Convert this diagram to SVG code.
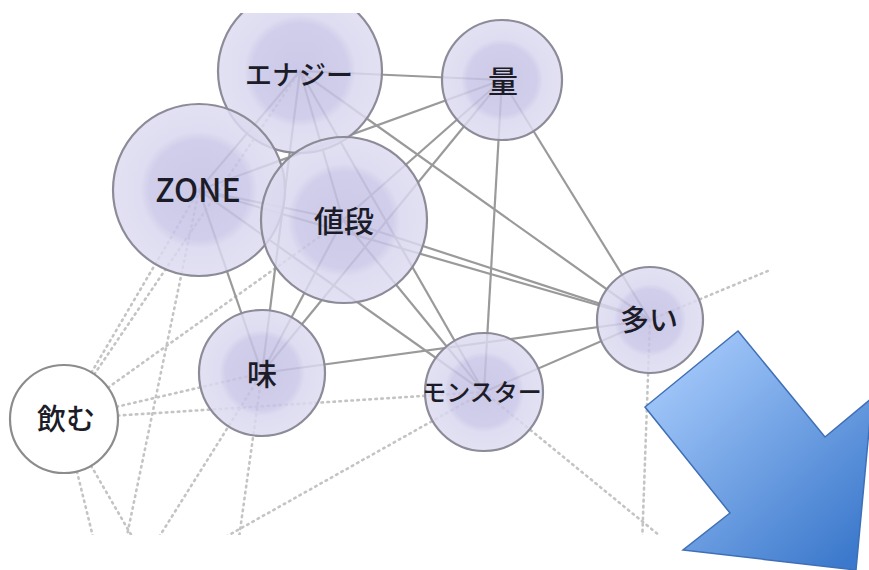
<svg xmlns="http://www.w3.org/2000/svg" width="869" height="570" viewBox="0 0 869 570">
<defs>
<radialGradient id="nodeFill" cx="0.5" cy="0.5" r="0.5">
<stop offset="0" stop-color="#c3bfe4"/>
<stop offset="0.58" stop-color="#c8c5e7"/>
<stop offset="0.68" stop-color="#d8d6ee"/>
<stop offset="1" stop-color="#dddbf0"/>
</radialGradient>
<linearGradient id="arrowFill" x1="0.15" y1="0.1" x2="0.9" y2="0.95">
<stop offset="0" stop-color="#a3c8fa"/>
<stop offset="1" stop-color="#3c79cc"/>
</linearGradient>
<clipPath id="frame"><rect x="0" y="13" width="770" height="522"/></clipPath>
<style>
.solid{stroke:#9a9a9a;stroke-width:2.2;fill:none}
.dot{stroke:#c4c4c4;stroke-width:2.6;stroke-dasharray:1.5 4.5;stroke-linecap:round;fill:none}
.node{fill:url(#nodeFill);fill-opacity:0.84;stroke:#8c8c98;stroke-width:2.2}
.plain{fill:#ffffff;stroke:#8c8c8c;stroke-width:2.2}
.lbl{font-family:"Noto Sans CJK JP","Noto Sans",sans-serif;font-weight:500;fill:#1c1c28;text-anchor:middle}
</style>
</defs>
<rect width="869" height="570" fill="#ffffff"/>
<g clip-path="url(#frame)">
<g id="connectors">
<line class="dot" x1="64" y1="419" x2="199" y2="190"/>
<line class="dot" x1="64" y1="419" x2="300" y2="71"/>
<line class="dot" x1="64" y1="419" x2="343" y2="220"/>
<line class="dot" x1="64" y1="419" x2="262" y2="373"/>
<line class="dot" x1="64" y1="419" x2="484" y2="392"/>
<line class="dot" x1="64" y1="419" x2="95" y2="545"/>
<line class="dot" x1="64" y1="419" x2="137" y2="545"/>
<line class="dot" x1="199" y1="190" x2="125" y2="545"/>
<line class="dot" x1="262" y1="373" x2="154" y2="545"/>
<line class="dot" x1="262" y1="373" x2="238" y2="545"/>
<line class="dot" x1="484" y1="392" x2="220" y2="540"/>
<line class="dot" x1="484" y1="392" x2="665" y2="540"/>
<line class="dot" x1="650" y1="320" x2="642" y2="545"/>
<line class="dot" x1="650" y1="320" x2="775" y2="268"/>
<line class="solid" x1="300" y1="71" x2="502" y2="80"/>
<line class="solid" x1="300" y1="71" x2="199" y2="190"/>
<line class="solid" x1="300" y1="71" x2="343" y2="220"/>
<line class="solid" x1="199" y1="190" x2="343" y2="220"/>
<line class="solid" x1="502" y1="80" x2="199" y2="190"/>
<line class="solid" x1="502" y1="80" x2="343" y2="220"/>
<line class="solid" x1="502" y1="80" x2="262" y2="373"/>
<line class="solid" x1="502" y1="80" x2="484" y2="392"/>
<line class="solid" x1="502" y1="80" x2="650" y2="320"/>
<line class="solid" x1="300" y1="71" x2="650" y2="320"/>
<line class="solid" x1="300" y1="71" x2="484" y2="392"/>
<line class="solid" x1="300" y1="71" x2="262" y2="373"/>
<line class="solid" x1="343" y1="220" x2="650" y2="320"/>
<line class="solid" x1="199" y1="190" x2="650" y2="320"/>
<line class="solid" x1="343" y1="220" x2="484" y2="392"/>
<line class="solid" x1="199" y1="190" x2="484" y2="392"/>
<line class="solid" x1="199" y1="190" x2="262" y2="373"/>
<line class="solid" x1="343" y1="220" x2="262" y2="373"/>
<line class="solid" x1="262" y1="373" x2="650" y2="320"/>
<line class="solid" x1="484" y1="392" x2="650" y2="320"/>
</g>
<g id="node-nomu"><circle class="plain" cx="64" cy="419" r="54"/><text class="lbl" x="66" y="430" font-size="29">飲む</text></g>
<g id="node-energy"><circle class="node" cx="300" cy="71" r="82"/><text class="lbl" x="299" y="85" font-size="27">エナジー</text></g>
<g id="node-zone"><circle class="node" cx="199" cy="190" r="86"/><text class="lbl" x="198" y="202" font-size="32">ZONE</text></g>
<g id="node-nedan"><circle class="node" cx="344" cy="220" r="83"/><text class="lbl" x="344" y="232" font-size="30">値段</text></g>
<g id="node-ryou"><circle class="node" cx="502" cy="80" r="60"/><text class="lbl" x="503" y="92" font-size="30">量</text></g>
<g id="node-aji"><circle class="node" cx="262" cy="373" r="63"/><text class="lbl" x="262" y="385" font-size="30">味</text></g>
<g id="node-monster"><circle class="node" cx="484" cy="392" r="59"/><text class="lbl" x="482" y="401" font-size="24">モンスター</text></g>
<g id="node-ooi"><circle class="node" cx="650" cy="320" r="53"/><text class="lbl" x="649" y="331" font-size="29">多い</text></g>
</g>
<g id="arrow">
<polygon points="738,331 825,437 872,398 856,570 683,550 730,513 645,407" fill="url(#arrowFill)" stroke="#3f6fb6" stroke-width="1.5" stroke-linejoin="miter"/>
</g>
</svg>
